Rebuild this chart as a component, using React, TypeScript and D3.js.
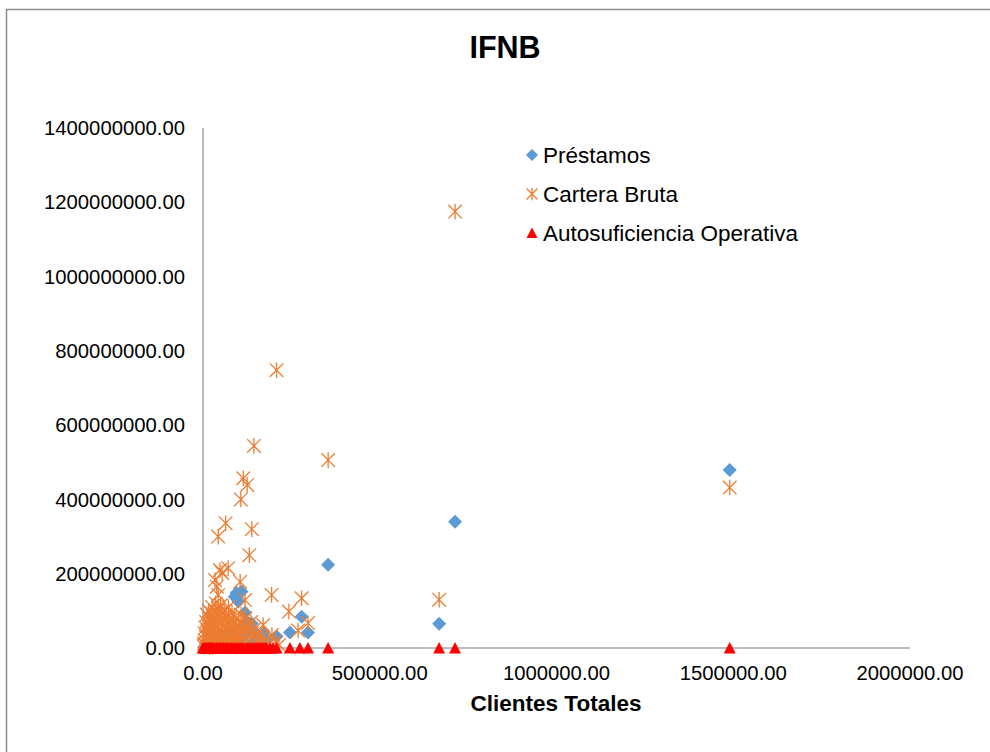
import React from "react";
import * as d3 from "d3";

// Clientes Totales (x) and values (y) per series
const prestamosX = [1490000, 668000, 713000, 354000, 90000, 109000, 119000, 124000, 279000, 297000, 246000, 208000, 170000, 138000, 95000, 100000, 130000, 150000, 160000, 180000, 115000, 140000, 5000, 10000, 15000, 20000, 25000, 30000, 35000, 40000, 45000, 50000, 55000, 60000, 65000, 70000, 75000, 80000, 85000, 90000, 95000, 100000, 105000, 110000, 12000, 3000];
const prestamosY = [479e6, 65e6, 340e6, 224e6, 138e6, 152e6, 95e6, 71e6, 84e6, 42e6, 42e6, 31e6, 40e6, 66e6, 148e6, 125e6, 55e6, 35e6, 25e6, 20e6, 30e6, 15e6, 5e6, 12e6, 8e6, 20e6, 15e6, 30e6, 10e6, 25e6, 18e6, 35e6, 12e6, 28e6, 20e6, 40e6, 15e6, 30e6, 22e6, 45e6, 10e6, 18e6, 38e6, 50e6, 2e6, 1e6];

const carteraX = [713000, 1490000, 668000, 208000, 144000, 354000, 114000, 125000, 107000, 64000, 43000, 138000, 131000, 48000, 71000, 34000, 54000, 105000, 194000, 279000, 43000, 119000, 243000, 297000, 269000, 170000, 39000,
  2000, 3000, 5000, 6000, 8000, 10000, 12000, 14000, 15000, 17000, 18000, 20000, 21000, 22000, 24000, 25000, 26000, 28000, 30000, 31000, 32000, 34000, 35000, 36000, 38000, 40000, 41000, 42000, 44000, 45000, 46000, 48000, 50000, 52000, 53000, 55000, 56000, 58000, 60000, 62000, 64000, 66000, 68000, 70000, 72000, 74000, 76000, 78000, 80000, 82000, 84000, 86000, 88000, 90000, 92000, 95000, 98000, 100000, 103000, 106000, 108000, 110000, 113000, 116000, 120000, 124000, 128000, 132000, 136000, 140000, 145000, 150000, 155000, 160000, 165000, 175000, 185000, 195000, 205000, 215000,
  4000, 7000, 9000, 11000, 13000, 16000, 19000, 23000, 27000, 29000, 33000, 37000, 39000, 43000, 47000, 51000, 57000, 61000, 65000, 69000, 73000, 77000, 81000, 85000, 89000, 93000, 97000];
const carteraY = [1175e6, 432e6, 130e6, 748e6, 544e6, 506e6, 457e6, 439e6, 400e6, 336e6, 300e6, 320e6, 250e6, 210e6, 215e6, 183e6, 202e6, 178e6, 143e6, 134e6, 143e6, 129e6, 98e6, 67e6, 47e6, 62e6, 165e6,
  5e6, 12e6, 20e6, 8e6, 30e6, 15e6, 45e6, 25e6, 60e6, 35e6, 80e6, 10e6, 50e6, 95e6, 70e6, 30e6, 110e6, 55e6, 85e6, 20e6, 65e6, 100e6, 40e6, 120e6, 75e6, 90e6, 25e6, 55e6, 105e6, 70e6, 35e6, 85e6, 115e6, 45e6, 95e6, 60e6, 20e6, 75e6, 100e6, 40e6, 88e6, 55e6, 30e6, 70e6, 110e6, 48e6, 80e6, 25e6, 62e6, 95e6, 38e6, 72e6, 50e6, 85e6, 30e6, 60e6, 42e6, 75e6, 28e6, 55e6, 90e6, 35e6, 65e6, 45e6, 80e6, 25e6, 55e6, 40e6, 70e6, 30e6, 50e6, 22e6, 38e6, 15e6, 28e6, 20e6, 12e6, 35e6, 18e6, 8e6,
  40e6, 55e6, 70e6, 90e6, 5e6, 100e6, 2e6, 15e6, 3e6, 45e6, 8e6, 12e6, 58e6, 5e6, 18e6, 30e6, 10e6, 15e6, 5e6, 12e6, 8e6, 15e6, 5e6, 18e6, 10e6, 4e6, 12e6];

const autoX = [0, 3000, 6000, 9000, 12000, 15000, 18000, 21000, 24000, 27000, 30000, 34000, 38000, 42000, 46000, 50000, 54000, 58000, 62000, 66000, 70000, 75000, 80000, 85000, 90000, 95000, 100000, 105000, 110000, 115000, 120000, 125000, 130000, 135000, 140000, 145000, 150000, 155000, 160000, 165000, 170000, 175000, 180000, 190000, 198000, 208000, 246000, 274000, 297000, 354000, 668000, 713000, 1490000];
const autoY = autoX.map(() => 1.1);

const xTicks = [0, 500000, 1000000, 1500000, 2000000];
const yTicks = [0, 200000000, 400000000, 600000000, 800000000, 1000000000, 1200000000, 1400000000];

const legendItems = ["Préstamos", "Cartera Bruta", "Autosuficiencia Operativa"];

const BLUE = "#5B9BD5";
const ORANGE = "#ED7D31";
const RED = "#FF0000";
const FONT = "'Liberation Sans', Arial, sans-serif";

export default function App() {
  const x = d3.scaleLinear().domain([0, 2000000]).range([203, 910]);
  const y = d3.scaleLinear().domain([0, 1400000000]).range([648, 128]);

  const diamond = (cx: number, cy: number, r = 7) => `M${cx},${cy - r}L${cx + r},${cy}L${cx},${cy + r}L${cx - r},${cy}Z`;
  const star = (cx: number, cy: number, r = 6.8) =>
    `M${cx - r},${cy - r}L${cx + r},${cy + r}M${cx - r},${cy + r}L${cx + r},${cy - r}M${cx},${cy - r * 1.15}L${cx},${cy + r * 1.15}`;
  const tri = (cx: number, cy: number, r = 6) => `M${cx},${cy - r}L${cx + r},${cy + r * 0.9}L${cx - r},${cy + r * 0.9}Z`;

  return (
    <svg width={990} height={752} style={{ position: "absolute", left: 0, top: 0, background: "#fff" }} fontFamily={FONT}>
      <rect x={0} y={0} width={990} height={752} fill="#fff" />
      <rect x={6.5} y={9.5} width={1000} height={800} fill="none" stroke="#8c8c8c" strokeWidth={1.5} />
      <text x={505} y={58} textAnchor="middle" fontSize={30.5} fontWeight="bold" fill="#000">IFNB</text>

      {/* axes */}
      <line x1={x(0)} x2={x(0)} y1={y(1400000000)} y2={y(0)} stroke="#a6a6a6" strokeWidth={1.5} />
      <line x1={x(0)} x2={x(2000000)} y1={y(0)} y2={y(0)} stroke="#a6a6a6" strokeWidth={1.5} />

      {yTicks.map((t) => (
        <text key={t} x={185} y={y(t)} dy="0.35em" textAnchor="end" fontSize={20.3} fill="#000">{t.toFixed(2)}</text>
      ))}
      {xTicks.map((t) => (
        <text key={t} x={x(t)} y={680} textAnchor="middle" fontSize={20.3} fill="#000">{t.toFixed(2)}</text>
      ))}
      <text x={556} y={711} textAnchor="middle" fontSize={22.5} fontWeight="bold" fill="#000">Clientes Totales</text>

      {/* series */}
      <g fill={BLUE}>
        {prestamosX.map((v, i) => (
          <path key={i} d={diamond(x(v), y(prestamosY[i]))} />
        ))}
      </g>
      <g stroke={ORANGE} strokeWidth={1.3} fill="none">
        {carteraX.map((v, i) => (
          <path key={i} d={star(x(v), y(carteraY[i]))} />
        ))}
      </g>
      <g fill={RED}>
        {autoX.map((v, i) => (
          <path key={i} d={tri(x(v), y(autoY[i]))} />
        ))}
      </g>

      {/* legend */}
      {legendItems.map((name, i) => {
        const cy = 155 + i * 39;
        return (
          <g key={name}>
            {i === 0 && <path d={diamond(532, cy, 6)} fill={BLUE} />}
            {i === 1 && <path d={star(532, cy, 5.5)} stroke={ORANGE} strokeWidth={1.3} fill="none" />}
            {i === 2 && <path d={tri(532, cy, 5.5)} fill={RED} />}
            <text x={543} y={cy} dy="0.35em" fontSize={22.5} fill="#000">{name}</text>
          </g>
        );
      })}
    </svg>
  );
}
